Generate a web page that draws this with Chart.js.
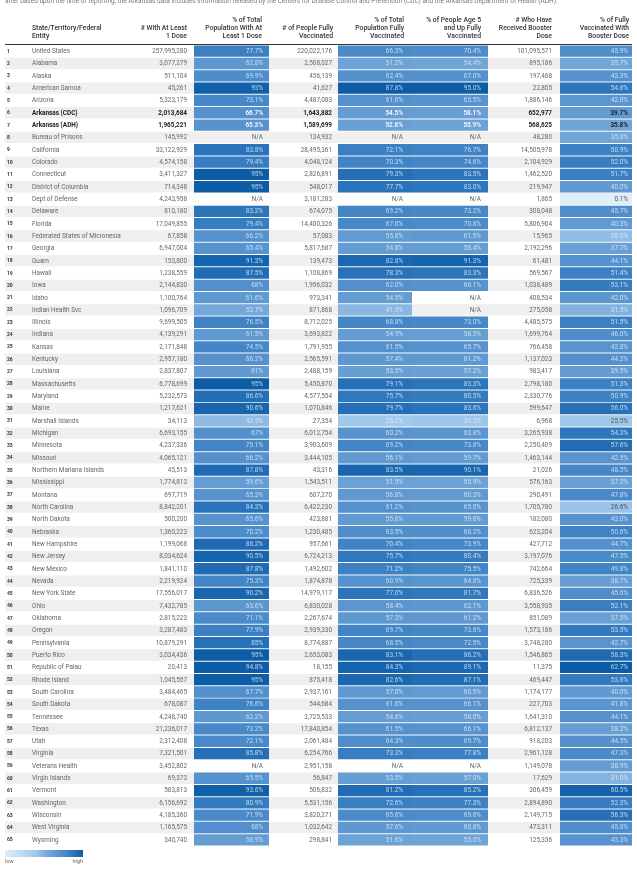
<!DOCTYPE html>
<html>
<head>
<meta charset="utf-8">
<script src="https://cdn.jsdelivr.net/npm/chart.js@4.4.1/dist/chart.umd.min.js"></script>
<style>
  html, body { margin: 0; padding: 0; background: #fff; overflow: hidden; }
  canvas { display: block; }
</style>
</head>
<body>
<canvas id="chart" width="637" height="871"></canvas>
<script>
// data
const entities = [
  "United States", "Alabama", "Alaska", "American Samoa", "Arizona", "Arkansas (CDC)", "Arkansas (ADH)",
  "Bureau of Prisons", "California", "Colorado", "Connecticut", "District of Columbia", "Dept of Defense",
  "Delaware", "Florida", "Federated States of Micronesia", "Georgia", "Guam", "Hawaii", "Iowa", "Idaho",
  "Indian Health Svc", "Illinois", "Indiana", "Kansas", "Kentucky", "Louisiana", "Massachusetts", "Maryland",
  "Maine", "Marshall Islands", "Michigan", "Minnesota", "Missouri", "Northern Mariana Islands", "Mississippi",
  "Montana", "North Carolina", "North Dakota", "Nebraska", "New Hampshire", "New Jersey", "New Mexico", "Nevada",
  "New York State", "Ohio", "Oklahoma", "Oregon", "Pennsylvania", "Puerto Rico", "Republic of Palau",
  "Rhode Island", "South Carolina", "South Dakota", "Tennessee", "Texas", "Utah", "Virginia", "Veterans Health",
  "Virgin Islands", "Vermont", "Washington", "Wisconsin", "West Virginia", "Wyoming"
];
const firstDose = [
  257995280, 3077279, 511104, 45261, 5323179, 2013684, 1965221, 145992, 33122929, 4574158, 3411327, 714348,
  4243958, 810180, 17049855, 67858, 6947004, 153800, 1238559, 2144830, 1100764, 1096709, 9699505, 4139291,
  2171848, 2957180, 2837807, 6778699, 5232573, 1217621, 34113, 6693155, 4237336, 4065121, 45513, 1774813,
  697719, 8842201, 500200, 1360223, 1199068, 8034624, 1841110, 2219924, 17556017, 7432785, 2815223, 3287483,
  10879291, 3034436, 20413, 1045557, 3484465, 678087, 4248740, 21236017, 2312408, 7321501, 3452802, 69373,
  583813, 6156692, 4185360, 1165575, 340740
];
const pctFirstDose = [
  77.7, 62.8, 69.9, 93, 73.1, 66.7, 65.3, null, 83.8, 79.4, 95, 95, null, 83.2, 79.4, 66.2, 65.4, 91.3, 87.5, 68,
  61.6, 52.7, 76.5, 61.5, 74.5, 66.2, 61, 95, 86.6, 90.6, 43.9, 67, 75.1, 66.2, 87.8, 59.6, 65.3, 84.3, 65.6,
  70.2, 88.2, 90.5, 87.8, 75.3, 90.2, 63.6, 71.1, 77.9, 85, 95, 94.8, 95, 67.7, 76.6, 62.2, 73.2, 72.1, 85.8,
  null, 65.5, 93.6, 80.9, 71.9, 68, 58.9
];
const fullyVaccinated = [
  220022176, 2508027, 456139, 41627, 4487083, 1643882, 1589699, 134932, 28495361, 4048124, 2826891, 548017,
  3181283, 674075, 14400326, 57083, 5817687, 139473, 1108869, 1956032, 973341, 871868, 8712025, 3693822,
  1791955, 2565591, 2488159, 5450870, 4577554, 1070846, 27354, 6012754, 3903609, 3444105, 43316, 1543511,
  607270, 6422230, 423881, 1230485, 957661, 6724213, 1492602, 1874878, 14979117, 6830028, 2267674, 2939330,
  8774887, 2653083, 18155, 875418, 2937161, 544684, 3725533, 17840854, 2061484, 6254766, 2951158, 56847,
  506832, 5531156, 3820271, 1032642, 298841
];
const pctFully = [
  66.3, 51.2, 62.4, 87.8, 61.6, 54.5, 52.8, null, 72.1, 70.3, 79.3, 77.7, null, 69.2, 67.0, 55.8, 54.8, 82.8,
  78.3, 62.0, 54.5, 41.9, 68.8, 54.9, 61.5, 57.4, 53.5, 79.1, 75.7, 79.7, 35.2, 60.2, 69.2, 56.1, 83.5, 51.9,
  56.8, 61.2, 55.6, 63.5, 70.4, 75.7, 71.2, 60.9, 77.0, 58.4, 57.3, 69.7, 68.5, 83.1, 84.3, 82.6, 57.0, 61.6,
  54.6, 61.5, 64.3, 73.3, null, 53.5, 81.2, 72.6, 65.6, 57.6, 51.6
];
const pctFullyAge5 = [
  70.4, 54.4, 67.0, 95.0, 65.5, 58.1, 55.9, null, 76.7, 74.6, 83.5, 83.0, null, 73.2, 70.8, 61.5, 58.4, 91.3,
  83.3, 66.1, null, null, 73.0, 58.5, 65.7, 61.2, 57.2, 83.3, 80.5, 83.6, 39.5, 63.8, 73.8, 59.7, 90.1, 55.9,
  60.3, 65.0, 59.8, 68.2, 73.9, 80.4, 75.5, 64.8, 81.7, 62.1, 61.2, 73.6, 72.5, 86.2, 89.1, 87.1, 60.5, 66.1,
  58.0, 66.1, 69.7, 77.8, null, 57.0, 85.2, 77.3, 69.6, 60.8, 55.0
];
const boosterDoses = [
  101095571, 895186, 197468, 22805, 1886146, 652977, 568625, 48280, 14505978, 2104929, 1462520, 219947, 1865,
  308048, 5806904, 15965, 2192296, 61481, 569567, 1038489, 408534, 275058, 4485575, 1699764, 766458, 1137023,
  983417, 2798180, 2330776, 599647, 6968, 3265938, 2250409, 1463144, 21026, 576163, 290491, 1705780, 182080,
  623204, 427712, 3197076, 742664, 725339, 6836526, 3558935, 851089, 1573186, 3748280, 1546865, 11375, 469447,
  1174177, 227703, 1641310, 6812137, 918203, 2961128, 1149078, 17629, 306459, 2894890, 2149715, 473311, 125336
];
const pctBooster = [
  45.9, 35.7, 43.3, 54.8, 42.0, 39.7, 35.8, 35.8, 50.9, 52.0, 51.7, 40.0, 0.1, 45.7, 40.3, 28.0, 37.7, 44.1,
  51.4, 53.1, 42.0, 31.5, 51.5, 46.0, 42.8, 44.3, 39.5, 51.3, 50.9, 56.0, 25.5, 54.3, 57.6, 42.5, 48.5, 37.3,
  47.8, 26.6, 43.0, 50.6, 44.7, 47.5, 49.8, 38.7, 45.6, 52.1, 37.5, 53.5, 42.7, 58.3, 62.7, 53.6, 40.0, 41.8,
  44.1, 38.2, 44.5, 47.3, 38.9, 31.0, 60.5, 52.3, 56.3, 45.8, 43.3
];
const boldRows = [6, 7];

const note = "after based upon the time of reporting, the Arkansas data includes information released by the Centers for Disease Control and Prevention (CDC) and the Arkansas Department of Health (ADH).";
const entityHeader = ["State/Territory/Federal", "Entity"];
const columnHeaders = [
  ["# With At Least", "1 Dose"],
  ["% of Total", "Population With At", "Least 1 Dose"],
  ["# of People Fully", "Vaccinated"],
  ["% of Total", "Population Fully", "Vaccinated"],
  ["% of People Age 5", "and Up Fully", "Vaccinated"],
  ["# Who Have", "Received Booster", "Dose"],
  ["% of Fully", "Vaccinated With", "Booster Dose"]
];

// layout of the table columns (pixels)
const columns = [
  { values: firstDose, kind: "count", textRight: 187, headRight: 187 },
  { values: pctFirstDose, kind: "pct", x0: 194, x1: 269, textRight: 263, headRight: 262, trimZero: true },
  { values: fullyVaccinated, kind: "count", textRight: 332, headRight: 333 },
  { values: pctFully, kind: "pct", x0: 338, x1: 412, textRight: 403, headRight: 404 },
  { values: pctFullyAge5, kind: "pct", x0: 412, x1: 488, textRight: 481, headRight: 481 },
  { values: boosterDoses, kind: "count", textRight: 552, headRight: 552 },
  { values: pctBooster, kind: "pct", x0: 560, x1: 632, textRight: 628, headRight: 629, booster: true }
];
const rowLeft = 5, rowRight = 632;

// color ramp low -> high, on value / column max
const stops = [
  [0, [222, 238, 250]],
  [0.4, [160, 201, 235]],
  [0.5, [130, 178, 222]],
  [0.6, [105, 160, 213]],
  [0.7, [85, 145, 205]],
  [0.8, [65, 132, 198]],
  [0.9, [38, 112, 184]],
  [1, [12, 92, 166]]
];

function ramp(t) {
  t = Math.max(0, Math.min(1, t));
  for (let i = 1; i < stops.length; i++) {
    if (t <= stops[i][0]) {
      const [t0, c0] = stops[i - 1];
      const [t1, c1] = stops[i];
      const k = (t - t0) / (t1 - t0);
      return c0.map((c, j) => Math.round(c + (c1[j] - c) * k));
    }
  }
  return stops[stops.length - 1][1];
}
const rgb = (c) => `rgb(${c[0]},${c[1]},${c[2]})`;

columns.forEach((col) => {
  if (col.kind === "pct") col.max = Math.max(...col.values.filter((v) => v != null));
});

function formatPct(v, col) {
  if (v == null) return "N/A";
  if (col.trimZero && Number.isInteger(v)) return v + "%";
  return v.toFixed(1) + "%";
}

// datasets: row bands + one heat column per percentage column
const datasets = [{
  data: entities.map(() => [rowLeft, rowRight]),
  backgroundColor: entities.map((_, i) => (i % 2 ? "#efefef" : "#ffffff")),
  grouped: false,
  barPercentage: 1,
  categoryPercentage: 0.92,
  order: 5
}];
columns.filter((c) => c.kind === "pct").forEach((col) => {
  datasets.push({
    data: col.values.map((v) => (v == null ? null : [col.x0, col.x1])),
    backgroundColor: col.values.map((v) => (v == null ? "transparent" : rgb(ramp(v / col.max)))),
    grouped: false,
    barPercentage: 1,
    categoryPercentage: 0.92,
    order: 1
  });
});

const tablePlugin = {
  id: "tableText",
  afterDatasetsDraw(chart) {
    const { ctx, scales: { y } } = chart;
    ctx.save();
    ctx.textBaseline = "middle";
    entities.forEach((name, i) => {
      const cy = y.getPixelForValue(i) + 0.3;
      const bold = boldRows.includes(i + 1);
      const weight = bold ? "bold " : "";

      ctx.fillStyle = "#333";
      ctx.textAlign = "left";
      ctx.font = "bold 5px Roboto";
      ctx.fillText(String(i + 1), 7, cy);

      ctx.font = weight + "6.4px Roboto";
      ctx.fillStyle = bold ? "#222" : "#666";
      ctx.fillText(name, 32, cy);

      ctx.textAlign = "right";
      columns.forEach((col) => {
        const v = col.values[i];
        if (col.kind === "count") {
          ctx.fillStyle = bold ? "#222" : "#666";
          ctx.fillText(v.toLocaleString("en-US"), col.textRight, cy);
        } else {
          if (v == null) {
            ctx.fillStyle = "#666";
          } else if (v < 27 || (bold && col.booster)) {
            ctx.fillStyle = bold ? "#222" : "#555";
          } else {
            ctx.fillStyle = bold ? "rgba(245,250,255,0.95)" : "rgba(228,240,251,0.8)";
          }
          ctx.fillText(formatPct(v, col), col.textRight, cy);
        }
      });
    });
    ctx.restore();
  },
  afterDraw(chart) {
    const { ctx } = chart;
    ctx.save();
    // note line, cut at the top edge
    ctx.font = "6.5px Roboto";
    ctx.fillStyle = "#777";
    ctx.textAlign = "left";
    ctx.textBaseline = "alphabetic";
    ctx.fillText(note, 5, 2.5);

    // header
    ctx.font = "500 6.8px Roboto";
    ctx.fillStyle = "#333";
    ctx.textBaseline = "middle";
    const lineY = [20.5, 28.5, 36.5];
    entityHeader.forEach((t, k) => ctx.fillText(t, 32, lineY[k + 1]));
    ctx.textAlign = "right";
    columnHeaders.forEach((lines, c) => {
      const start = 3 - lines.length;
      lines.forEach((t, k) => ctx.fillText(t, columns[c].headRight, lineY[start + k]));
    });
    ctx.fillStyle = "#333";
    ctx.fillRect(rowLeft, 44, rowRight - rowLeft, 1);

    // legend
    const lx0 = 5, lx1 = 83, ly = 850, lh = 7;
    const grad = ctx.createLinearGradient(lx0, 0, lx1, 0);
    stops.forEach(([t, c]) => grad.addColorStop(t, rgb(c)));
    ctx.fillStyle = grad;
    ctx.fillRect(lx0, ly, lx1 - lx0, lh);
    ctx.font = "5.5px Roboto";
    ctx.fillStyle = "#666";
    ctx.textAlign = "left";
    ctx.fillText("low", lx0, 862);
    ctx.textAlign = "right";
    ctx.fillText("high", lx1, 862);
    ctx.restore();
  }
};

new Chart(document.getElementById("chart"), {
  type: "bar",
  data: { labels: entities, datasets },
  options: {
    indexAxis: "y",
    responsive: false,
    animation: false,
    devicePixelRatio: 1,
    layout: { padding: { top: 45, bottom: 25, left: 0, right: 0 } },
    scales: {
      x: { type: "linear", min: 0, max: 637, display: false },
      y: { display: false }
    },
    plugins: {
      legend: { display: false },
      tooltip: { enabled: false }
    }
  },
  plugins: [tablePlugin]
});
</script>
</body>
</html>
